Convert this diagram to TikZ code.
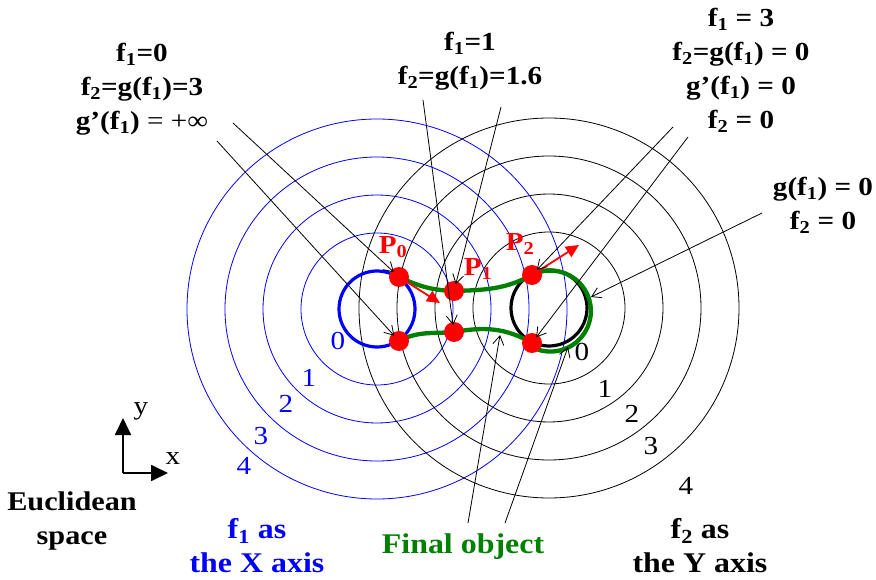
\documentclass[tikz,border=0pt]{standalone}
\usepackage{fontspec}
\setmainfont{Liberation Serif}[FakeStretch=1.12]
\usepackage{tikz}
\usetikzlibrary{positioning, arrows.meta}
\definecolor{objgreen}{RGB}{0,128,0}

\begin{document}
\begin{tikzpicture}[
    x=1pt, y=-1pt,
    note/.style={font=\bfseries\fontsize{26}{34}\selectfont, align=center, inner sep=0pt},
    caption/.style={font=\bfseries\fontsize{28.5}{34}\selectfont, align=center, inner sep=0pt},
    level/.style={font=\fontsize{26}{26}\selectfont, inner sep=0pt},
    ring/.style={line width=0.8pt},
    zero/.style={line width=3.2pt},
    pin/.style={-{Straight Barb[length=9pt,width=11pt]}, line width=0.8pt, shorten >=7pt},
    tip/.style={-{Straight Barb[length=9pt,width=11pt]}, line width=0.8pt},
    dot/.style={circle, fill=red, minimum size=20pt, inner sep=0pt},
    push/.style={-{Triangle[length=13pt,width=12pt]}, red, line width=1.8pt},
    obj/.style={objgreen, line width=4.3pt},
    axis/.style={-{Triangle[length=17pt,width=16pt]}, line width=1.8pt}
  ]
  \useasboundingbox (0,0) rectangle (876,580);

  % level sets of f1 (blue) and f2 (black)
  \coordinate (cf1) at (377,309);
  \coordinate (cf2) at (549,308);
  \foreach \k in {2,...,5} {
    \draw[ring, blue] (cf1) circle[radius=\k*38pt];
    \draw[ring] (cf2) circle[radius=\k*38pt];
  }
  \draw[zero, blue] (cf1) circle[radius=38pt];
  \draw[zero] (cf2) circle[radius=38pt];

  \foreach \t/\x/\y in {0/338/341, 1/309/378, 2/286/404, 3/261/436, 4/244/466}
    \node[level, blue] (bl\t) at (\x,\y) {\t};
  \foreach \t/\x/\y in {0/582/352, 1/605/389, 2/632/414, 3/651/446, 4/686/486}
    \node[level] (kl\t) at (\x,\y) {\t};

  % final object
  \coordinate (p0) at (399,277);
  \coordinate (p1) at (454,291);
  \coordinate (p2) at (532,275);
  \coordinate (q0) at (399,341);
  \coordinate (q1) at (454,332);
  \coordinate (q2) at (532,343);
  \draw[obj] (p0) to[out=-25,in=178] (p1) to[out=2,in=208] (p2)
    arc[start angle=117, end angle=-117, radius=40.5pt] -- (q2)
    to[out=150,in=10] (q1) to[out=185,in=28] (q0);
  \foreach \d in {p0,p1,p2,q0,q1,q2}
    \node[dot] (dot-\d) at (\d) {};

  \coordinate (v0) at (440,303);
  \coordinate (v2) at (579,245);
  \draw[push] (p0) -- (v0);
  \draw[push] (p2) -- (v2);
  \node[note, red] (n0) at (393,247) {P\textsubscript{0}};
  \node[note, red] (n1) at (478,269) {P\textsubscript{1}};
  \node[note, red] (n2) at (520,244) {P\textsubscript{2}};

  % annotations
  \node[note] (info0) at (142,89) {f\textsubscript{1}=0\\f\textsubscript{2}=g(f\textsubscript{1})=3\\g’(f\textsubscript{1})\mdseries{} = +∞};
  \node[note] (info1) at (470,61) {f\textsubscript{1}=1\\f\textsubscript{2}=g(f\textsubscript{1})=1.6};
  \node[note] (info3) at (741,70) {f\textsubscript{1} = 3\\f\textsubscript{2}=g(f\textsubscript{1}) = 0\\g’(f\textsubscript{1}) = 0\\f\textsubscript{2} = 0};
  \node[note] (infoE) at (823,205) {g(f\textsubscript{1}) = 0\\f\textsubscript{2} = 0};

  \coordinate (a1) at (233,123);
  \coordinate (a2) at (217,141);
  \coordinate (b1) at (423,100);
  \coordinate (b2) at (501,107);
  \coordinate (m1) at (673,127);
  \coordinate (m2) at (688,137);
  \coordinate (e1) at (762,213);
  \coordinate (e2) at (591,297);
  \coordinate (o1) at (468,523);
  \coordinate (o2) at (505,523);
  \coordinate (t1) at (500,335);
  \coordinate (t2) at (568,347);
  \draw[pin] (a1) -- (p0);
  \draw[pin] (a2) -- (q0);
  \draw[pin] (b1) -- (q1);
  \draw[pin] (b2) -- (p1);
  \draw[pin] (m1) -- (p2);
  \draw[pin] (m2) -- (q2);
  \draw[tip] (e1) -- (e2);
  \draw[tip] (o1) -- (t1);
  \draw[tip] (o2) -- (t2);

  % axes
  \coordinate (origin) at (123,473);
  \coordinate (yend) at (123,418);
  \coordinate (xend) at (168,473);
  \draw[axis] (origin) -- (yend);
  \draw[axis] (origin) -- (xend);
  \node[level] (ylab) at (141,411) {y};
  \node[level] (xlab) at (173,459) {x};

  \node[caption, font=\bfseries\fontsize{27}{34}\selectfont] (euclid) at (72,521) {Euclidean\\space};
  \node[caption, blue] (xaxis) at (257,546) {f\textsubscript{1} as\\the X axis};
  \node[caption, objgreen] (final) at (463,547) {Final object};
  \node[caption] (yaxis) at (700,546) {f\textsubscript{2} as\\the Y axis};
\end{tikzpicture}
\end{document}
